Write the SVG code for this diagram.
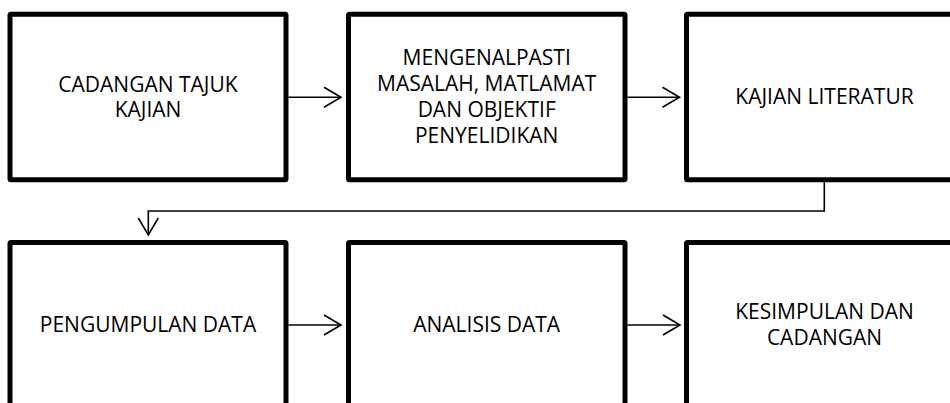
<svg xmlns="http://www.w3.org/2000/svg" width="950" height="403" viewBox="0 0 950 403">
<style>
.box{fill:#fff;stroke:#000;stroke-width:5;stroke-linejoin:round}
.lbl{font-family:"Open Sans","Noto Sans",sans-serif;font-size:21px;fill:#000;text-anchor:middle}
.con{fill:none;stroke:#000;stroke-width:1.6}
.ah{fill:none;stroke:#000;stroke-width:1.6}
</style>
<defs>
<marker id="arr" markerUnits="userSpaceOnUse" markerWidth="24" markerHeight="24" refX="18" refY="11" orient="auto" viewBox="0 0 24 22">
<path d="M1,1 L18,11 L1,21" class="ah"/>
</marker>
</defs>
<rect width="950" height="403" fill="#fff"/>
<g id="n1"><rect class="box" x="10" y="14.2" width="276" height="165.6" rx="1"/>
<text class="lbl" x="148" y="91.7">CADANGAN TAJUK</text><text class="lbl" x="148" y="117.3">KAJIAN</text></g>
<g id="n2"><rect class="box" x="348.5" y="14.2" width="276.5" height="165.6" rx="1"/>
<text class="lbl" x="486.7" y="64.5">MENGENALPASTI</text><text class="lbl" x="486.7" y="90.8">MASALAH, MATLAMAT</text><text class="lbl" x="486.7" y="117.1">DAN OBJEKTIF</text><text class="lbl" x="486.7" y="143.4">PENYELIDIKAN</text></g>
<g id="n3"><rect class="box" x="686.5" y="14.2" width="276" height="165.6" rx="1"/>
<text class="lbl" x="824.5" y="104.4">KAJIAN LITERATUR</text></g>
<g id="n4"><rect class="box" x="10" y="242.5" width="276" height="175" rx="1"/>
<text class="lbl" x="148" y="332.3">PENGUMPULAN DATA</text></g>
<g id="n5"><rect class="box" x="348.5" y="242.5" width="276.5" height="175" rx="1"/>
<text class="lbl" x="486.7" y="332.3">ANALISIS DATA</text></g>
<g id="n6"><rect class="box" x="686.5" y="242.5" width="276" height="175" rx="1"/>
<text class="lbl" x="824.5" y="319">KESIMPULAN DAN</text><text class="lbl" x="824.5" y="345">CADANGAN</text></g>
<g id="connectors">
<path class="con" d="M288.5,97.3 H341" marker-end="url(#arr)"/>
<path class="con" d="M627.5,97.3 H679.5" marker-end="url(#arr)"/>
<path class="con" d="M824.3,182 V211 H148.3 V235" marker-end="url(#arr)"/>
<path class="con" d="M288.5,325 H341" marker-end="url(#arr)"/>
<path class="con" d="M627.5,325 H680" marker-end="url(#arr)"/>
</g>
</svg>
